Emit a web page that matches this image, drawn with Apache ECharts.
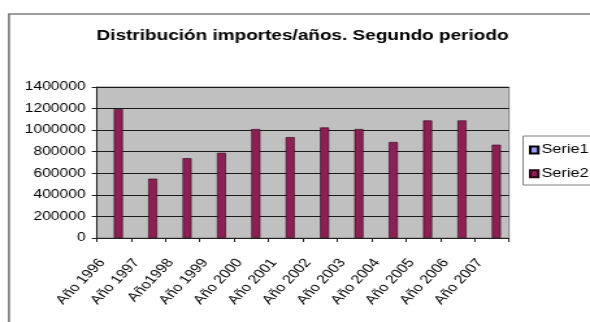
<!DOCTYPE html>
<html>
<head>
<meta charset="utf-8">
<script src="https://cdn.jsdelivr.net/npm/echarts@6/dist/echarts.min.js"></script>
<style>
  html, body { margin: 0; padding: 0; background: #fff; overflow: hidden; }
  #wrap { width: 590px; height: 322px; overflow: hidden; }
  /* the chart is laid out narrower and widened horizontally, giving the broad lettering */
  #chart { width: 454px; height: 322px; transform-origin: 0 0; transform: scaleX(1.29956); }
</style>
</head>
<body>
<div id="wrap"><div id="chart"></div></div>
<script>
// Chart text
const titleText = 'Distribución importes/años. Segundo periodo';
const seriesNames = ['Serie1', 'Serie2'];

// Categories (years)
const categories = ['Año 1996', 'Año 1997', 'Año1998', 'Año 1999', 'Año 2000', 'Año 2001',
                    'Año 2002', 'Año 2003', 'Año 2004', 'Año 2005', 'Año 2006', 'Año 2007'];

// Series values
const serie1 = [];
const serie2 = [1195000, 550000, 740000, 790000, 1010000, 935000,
                1025000, 1010000, 890000, 1090000, 1090000, 865000];

// Value axis ticks
const yTicks = [0, 200000, 400000, 600000, 800000, 1000000, 1200000, 1400000];

const FONT = 'Liberation Sans, Arial, sans-serif';
const chart = echarts.init(document.getElementById('chart'), null, { renderer: 'canvas' });

chart.setOption({
  animation: false,
  backgroundColor: '#ffffff',
  title: {
    text: titleText,
    left: 232.8,
    top: 28,
    padding: 0,
    textAlign: 'center',
    textStyle: { fontFamily: FONT, fontWeight: 'bold', fontSize: 14.6, color: '#000' }
  },
  graphic: [{
    type: 'rect',
    shape: { x: 6.9, y: 14, width: 600, height: 400 },
    style: { fill: null, stroke: '#808080', lineWidth: 1.7 },
    silent: true,
    z: -1
  }],
  legend: {
    orient: 'vertical',
    left: 402.5,
    top: 136,
    padding: [7.5, 4, 4.8, 4.5],
    itemGap: 10.7,
    itemWidth: 6.2,
    itemHeight: 7,
    borderColor: '#808080',
    borderWidth: 1,
    backgroundColor: '#fff',
    icon: 'rect',
    textStyle: { fontFamily: FONT, fontSize: 12.5, color: '#000', padding: [0, 0, 0, -2.5] },
    data: seriesNames
  },
  grid: {
    left: 74.4,
    top: 87,
    width: 317.3,
    height: 151,
    show: true,
    backgroundColor: '#c0c0c0',
    borderColor: '#808080',
    borderWidth: 1,
    containLabel: false
  },
  xAxis: {
    type: 'category',
    data: categories,
    boundaryGap: true,
    axisLine: { show: true, lineStyle: { color: '#222', width: 1 } },
    axisTick: { show: true, length: 4, lineStyle: { color: '#222' } },
    axisLabel: {
      rotate: 52.4,
      margin: 10.5,
      padding: [0, 15, 0, 0],
      interval: 0,
      fontFamily: FONT,
      fontSize: 12.5,
      color: '#000'
    },
    splitLine: { show: false }
  },
  yAxis: {
    type: 'value',
    min: yTicks[0],
    max: yTicks[yTicks.length - 1],
    interval: yTicks[1] - yTicks[0],
    axisLine: { show: true, lineStyle: { color: '#222', width: 1 } },
    axisTick: { show: true, length: 3.8, lineStyle: { color: '#222' } },
    axisLabel: {
      margin: 8.6,
      fontFamily: FONT,
      fontSize: 12,
      color: '#000',
      formatter: v => String(v)
    },
    splitLine: { show: true, lineStyle: { color: '#1a1a1a', width: 1 } }
  },
  series: [
    {
      name: seriesNames[0],
      type: 'bar',
      data: serie1,
      barWidth: 6.9,
      barGap: '0%',
      itemStyle: { color: '#9999ff', borderColor: '#000', borderWidth: 0.6 }
    },
    {
      name: seriesNames[1],
      type: 'bar',
      data: serie2,
      barWidth: 6.9,
      barGap: '0%',
      itemStyle: { color: '#8e1f55', borderColor: '#2a0616', borderWidth: 0.6 }
    }
  ]
});
</script>
</body>
</html>
